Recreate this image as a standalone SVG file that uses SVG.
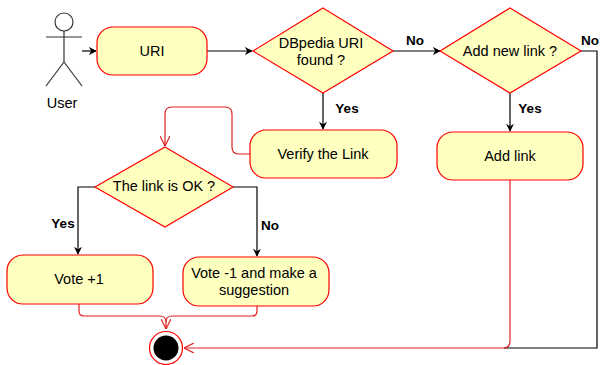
<svg xmlns="http://www.w3.org/2000/svg" width="600" height="365" viewBox="0 0 600 365">
<style>
.n{fill:#ffffc0;stroke:#ff0000;stroke-width:1.2}
.t{font-family:"Liberation Sans",Arial,sans-serif;font-size:14.5px;fill:#000;text-anchor:middle}
.l{font-family:"Liberation Sans",Arial,sans-serif;font-size:13.5px;font-weight:bold;fill:#000;text-anchor:middle}
.k{fill:none;stroke:#000;stroke-width:1.2}
.r{fill:none;stroke:#e02020;stroke-width:1.2}
.a{fill:none;stroke:#333;stroke-width:1.2}
</style>
<defs>
<marker id="ab" viewBox="0 0 10 10" refX="9" refY="5" markerWidth="8" markerHeight="8" markerUnits="userSpaceOnUse" orient="auto"><path d="M0,0 L10,5 L0,10 L3,5 Z" fill="#000"/></marker>
<marker id="ar" viewBox="0 0 10 10" refX="10" refY="5" markerWidth="10" markerHeight="10" markerUnits="userSpaceOnUse" orient="auto"><path d="M0,0 L10,5 L0,10" fill="none" stroke="#e02020" stroke-width="1.2"/></marker>
</defs>
<rect width="600" height="365" fill="#fff"/>
<g id="connectors">
<path class="k" d="M82,51 H96" marker-end="url(#ab)"/>
<path class="k" d="M207,51 H252" marker-end="url(#ab)"/>
<path class="k" d="M393,51 H440" marker-end="url(#ab)"/>
<path class="k" d="M323,93 V129" marker-end="url(#ab)"/>
<path class="k" d="M510,93 V131" marker-end="url(#ab)"/>
<path class="k" d="M581,51 H597 V348 H504"/>
<path class="r" d="M510,180 V341 Q510,348 503,348 H184" marker-end="url(#ar)"/>
<path class="r" d="M250,154 H239 Q232,154 232,147 V114 Q232,107 225,107 H172 Q165,107 165,114 V146" marker-end="url(#ar)"/>
<path class="k" d="M95,187 H78 V254" marker-end="url(#ab)"/>
<path class="k" d="M233,187 H257 V256" marker-end="url(#ab)"/>
<path class="r" d="M79,304 V311 Q79,316 84,316 H160 Q166,316 166,322 V329" marker-end="url(#ar)"/>
<path class="r" d="M257,306 V311 Q257,316 252,316 H172 Q166,316 166,322"/>
<text class="l" x="415" y="45">No</text>
<text class="l" x="599" y="45" text-anchor="end" style="text-anchor:end">No</text>
<text class="l" x="347" y="113">Yes</text>
<text class="l" x="530" y="113">Yes</text>
<text class="l" x="63" y="228">Yes</text>
<text class="l" x="270" y="230">No</text>
</g>
<g id="user">
<circle cx="64" cy="22" r="9" class="a" fill="#fff"/>
<path class="a" d="M64,31 V62 M46,37 H82 M64,62 L46,86 M64,62 L82,86"/>
<text class="t" x="62" y="108">User</text>
</g>
<g id="uri">
<rect class="n" x="97" y="27" width="110" height="48" rx="16"/>
<text class="t" x="152" y="56">URI</text>
</g>
<g id="dbpedia">
<polygon class="n" points="323,8 393,51 323,93 253,51"/>
<text class="t" x="321" y="48">DBpedia URI</text>
<text class="t" x="321" y="65">found ?</text>
</g>
<g id="addnew">
<polygon class="n" points="510,8 581,51 510,93 440,51"/>
<text class="t" x="510" y="56">Add new link ?</text>
</g>
<g id="verify">
<rect class="n" x="250" y="130" width="147" height="48" rx="16"/>
<text class="t" x="323" y="159">Verify the Link</text>
</g>
<g id="addlink">
<rect class="n" x="437" y="132" width="146" height="48" rx="16"/>
<text class="t" x="510" y="161">Add link</text>
</g>
<g id="linkok">
<polygon class="n" points="165,147 233,187 165,227 95,187"/>
<text class="t" x="164" y="191">The link is OK ?</text>
</g>
<g id="voteplus">
<rect class="n" x="7" y="255" width="146" height="49" rx="16"/>
<text class="t" x="79" y="284">Vote +1</text>
</g>
<g id="voteminus">
<rect class="n" x="183" y="257" width="146" height="49" rx="16"/>
<text class="t" x="254" y="278">Vote -1 and make a</text>
<text class="t" x="254" y="295">suggestion</text>
</g>
<g id="end">
<circle cx="166" cy="348" r="16.5" fill="#fff" stroke="#ff0000" stroke-width="1.2"/>
<circle cx="166" cy="348" r="12.5" fill="#000"/>
</g>
</svg>
